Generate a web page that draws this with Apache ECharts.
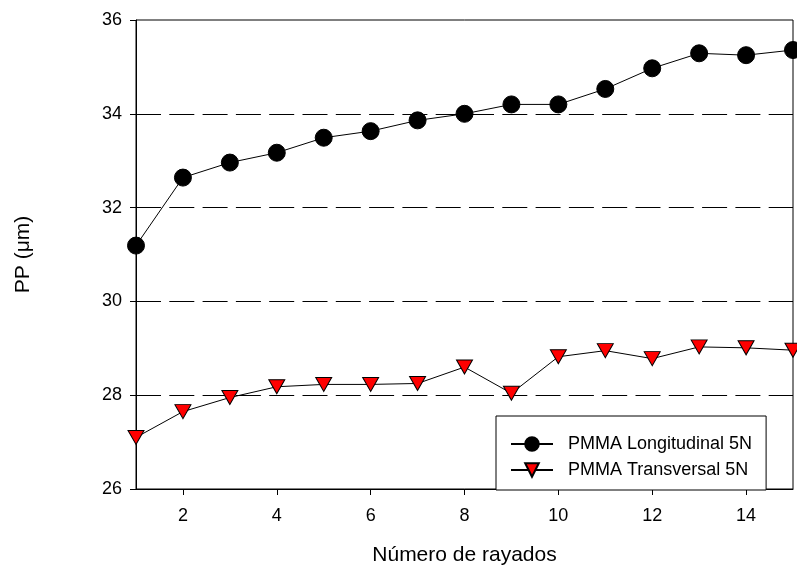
<!DOCTYPE html>
<html>
<head>
<meta charset="utf-8">
<script src="https://cdn.jsdelivr.net/npm/echarts@6/dist/echarts.min.js"></script>
<style>
  html, body { margin: 0; padding: 0; background: #fff; }
  #chart { width: 797px; height: 571px; }
</style>
</head>
<body>
<div id="chart"></div>
<script>
// Scratch count (x) and penetration depth PP in µm for PMMA at 5 N
const scratches = [1, 2, 3, 4, 5, 6, 7, 8, 9, 10, 11, 12, 13, 14, 15];
const longitudinal = [31.19, 32.64, 32.96, 33.17, 33.49, 33.63, 33.86, 34.0, 34.2, 34.2, 34.53, 34.97, 35.29, 35.25, 35.36];
const transversal = [27.1, 27.65, 27.95, 28.18, 28.23, 28.23, 28.25, 28.6, 28.04, 28.82, 28.95, 28.78, 29.03, 29.01, 28.96];
const xTicks = [2, 4, 6, 8, 10, 12, 14];
const seriesNames = ['PMMA Longitudinal 5N', 'PMMA Transversal 5N'];

const FONT = 'Liberation Sans, Arial, sans-serif';

const pairs = (ys) => scratches.map((x, i) => [x, ys[i]]);

const chart = echarts.init(document.getElementById('chart'), null, { renderer: 'canvas' });

chart.setOption({
  animation: false,
  backgroundColor: '#fff',
  textStyle: { fontFamily: FONT, color: '#000' },
  grid: {
    left: 136, top: 20, right: 4, bottom: 80,
    show: true, borderColor: '#000', borderWidth: 1, backgroundColor: 'transparent'
  },
  legend: {
    orient: 'vertical',
    left: 496, top: 416,
    data: seriesNames,
    itemWidth: 42, itemHeight: 17, itemGap: 8,
    padding: [19, 14, 11, 14],
    borderColor: '#000', borderWidth: 1,
    backgroundColor: '#fff',
    textStyle: { fontFamily: FONT, fontSize: 18, color: '#000', padding: [0, 0, 0, 10] }
  },
  xAxis: {
    type: 'value',
    min: 1, max: 15,
    name: 'Número de rayados',
    nameLocation: 'middle',
    nameGap: 56,
    nameTextStyle: { fontFamily: FONT, fontSize: 21, color: '#000' },
    axisLine: { show: true, onZero: false, lineStyle: { color: '#000', width: 1 } },
    axisTick: { show: true, inside: false, length: 6, customValues: xTicks, lineStyle: { color: '#000' } },
    axisLabel: { customValues: xTicks, fontFamily: FONT, fontSize: 18, color: '#000', margin: 18 },
    splitLine: { show: false }
  },
  yAxis: {
    type: 'value',
    min: 26, max: 36, interval: 2,
    name: 'PP (μm)',
    nameLocation: 'middle',
    nameGap: 102,
    nameRotate: 90,
    nameTextStyle: { fontFamily: FONT, fontSize: 21, color: '#000' },
    axisLine: { show: true, lineStyle: { color: '#000', width: 1 } },
    axisTick: { show: true, inside: false, length: 6, lineStyle: { color: '#000' } },
    axisLabel: { fontFamily: FONT, fontSize: 18, color: '#000', margin: 14 },
    splitLine: {
      show: true,
      showMinLine: false, showMaxLine: false,
      lineStyle: { color: '#000', width: 1, type: [25, 8.3] }
    }
  },
  series: [
    {
      name: seriesNames[0],
      type: 'line',
      data: pairs(longitudinal),
      symbol: 'circle',
      symbolSize: 17,
      itemStyle: { color: '#000', borderColor: '#000', borderWidth: 1 },
      lineStyle: { color: '#000', width: 1 },
      z: 3
    },
    {
      name: seriesNames[1],
      type: 'line',
      data: pairs(transversal),
      symbol: 'triangle',
      symbolRotate: 180,
      symbolSize: [16, 14],
      itemStyle: { color: '#ff0000', borderColor: '#000', borderWidth: 1 },
      lineStyle: { color: '#000', width: 1 },
      z: 3
    }
  ]
});
</script>
</body>
</html>
